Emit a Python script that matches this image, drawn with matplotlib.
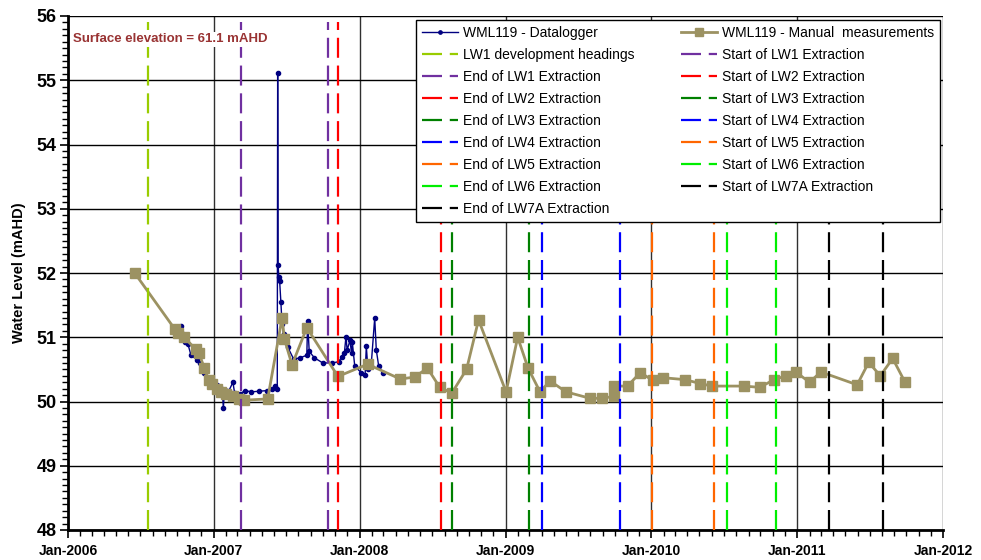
import matplotlib
matplotlib.use("Agg")
import matplotlib.pyplot as plt
import matplotlib.dates as mdates
from matplotlib.ticker import MultipleLocator
import pandas as pd

plt.rcParams['font.family'] = ['Liberation Sans', 'DejaVu Sans']

# ---------------- data ----------------
logger_dates = ['2006-10-11', '2006-10-16', '2006-10-20', '2006-10-28', '2006-11-05',
                '2006-11-20', '2006-11-28', '2006-12-08', '2006-12-26', '2007-01-10',
                '2007-01-22', '2007-01-25', '2007-01-28', '2007-02-08', '2007-02-18',
                '2007-02-22', '2007-03-08', '2007-03-20', '2007-04-05', '2007-04-25',
                '2007-05-15', '2007-05-28', '2007-06-04', '2007-06-09', '2007-06-10',
                '2007-06-11', '2007-06-13', '2007-06-15', '2007-06-18', '2007-06-21',
                '2007-06-25', '2007-07-05', '2007-07-20', '2007-08-05', '2007-08-22',
                '2007-08-24', '2007-08-28', '2007-09-10', '2007-10-01', '2007-10-25',
                '2007-11-10', '2007-11-18', '2007-11-24', '2007-11-28', '2007-12-01',
                '2007-12-08', '2007-12-12', '2007-12-14', '2007-12-20', '2008-01-05',
                '2008-01-15', '2008-01-18', '2008-01-22', '2008-01-30', '2008-02-08',
                '2008-02-12', '2008-02-18', '2008-03-01']
logger_values = [51.18, 51.05, 50.92, 50.90, 50.72,
                 50.65, 50.60, 50.44, 50.29, 50.25,
                 50.20, 49.90, 50.18, 50.17, 50.30,
                 50.14, 50.12, 50.17, 50.15, 50.16,
                 50.17, 50.20, 50.24, 50.20, 55.12,
                 52.13, 51.93, 51.87, 51.55, 51.20,
                 51.05, 50.85, 50.66, 50.68, 50.72,
                 51.25, 50.78, 50.68, 50.60, 50.60,
                 50.62, 50.70, 50.75, 51.01, 50.80,
                 50.95, 50.75, 50.92, 50.55, 50.45,
                 50.42, 50.86, 50.50, 50.55, 51.30,
                 50.80, 50.55, 50.44]

manual_dates = ['2006-06-17', '2006-09-25', '2006-10-04', '2006-10-19', '2006-11-17',
                '2006-11-25', '2006-12-08', '2006-12-20', '2006-12-27', '2007-01-10',
                '2007-01-19', '2007-01-31', '2007-02-17', '2007-03-05', '2007-03-18',
                '2007-05-16', '2007-06-21', '2007-06-27', '2007-07-16', '2007-08-22',
                '2007-11-08', '2008-01-21', '2008-04-12', '2008-05-18', '2008-06-19',
                '2008-07-20', '2008-08-19', '2008-09-25', '2008-10-25', '2009-01-02',
                '2009-01-31', '2009-02-26', '2009-03-28', '2009-04-22', '2009-06-01',
                '2009-07-31', '2009-08-31', '2009-09-28', '2009-09-30', '2009-11-02',
                '2009-12-04', '2010-01-04', '2010-01-31', '2010-03-26', '2010-05-03',
                '2010-06-01', '2010-08-21', '2010-09-29', '2010-11-04', '2010-12-04',
                '2010-12-28', '2011-02-01', '2011-03-01', '2011-05-31', '2011-06-29',
                '2011-07-28', '2011-08-28', '2011-09-28']
manual_values = [52.00, 51.13, 51.07, 51.00, 50.81,
                 50.76, 50.52, 50.33, 50.27, 50.20,
                 50.15, 50.12, 50.09, 50.04, 50.02,
                 50.04, 51.30, 50.97, 50.57, 51.15,
                 50.39, 50.58, 50.35, 50.38, 50.52,
                 50.22, 50.13, 50.50, 51.27, 50.15,
                 51.00, 50.52, 50.15, 50.32, 50.15,
                 50.05, 50.05, 50.08, 50.24, 50.24,
                 50.45, 50.33, 50.37, 50.34, 50.28,
                 50.24, 50.24, 50.22, 50.34, 50.40,
                 50.46, 50.30, 50.46, 50.26, 50.61,
                 50.40, 50.67, 50.30]

event_labels = ['LW1 development headings',
                'End of LW1 Extraction', 'End of LW2 Extraction', 'End of LW3 Extraction',
                'End of LW4 Extraction', 'End of LW5 Extraction', 'End of LW6 Extraction',
                'End of LW7A Extraction',
                'Start of LW1 Extraction', 'Start of LW2 Extraction', 'Start of LW3 Extraction',
                'Start of LW4 Extraction', 'Start of LW5 Extraction', 'Start of LW6 Extraction',
                'Start of LW7A Extraction']
event_dates = ['2006-07-20',
               '2007-10-13', '2008-07-22', '2009-03-01', '2009-10-13', '2010-06-07',
               '2010-11-10', '2011-08-04',
               '2007-03-10', '2007-11-08', '2008-08-20', '2009-04-01', '2010-01-03',
               '2010-07-08', '2011-03-21']
event_colors = ['#99CC00',
                '#7030A0', '#FF0000', '#008000', '#0000FF', '#FF6600', '#00EE00', '#000000',
                '#7030A0', '#FF0000', '#008000', '#0000FF', '#FF6600', '#00EE00', '#000000']

y_min, y_max = 48, 56
x_start, x_end = '2006-01-01', '2012-01-01'

# ---------------- plot ----------------
fig = plt.figure(figsize=(9.81, 5.60), dpi=100)
ax = fig.add_axes([68 / 981, 30 / 560, (943 - 68) / 981, (530 - 16) / 560])

ax.set_xlim(pd.Timestamp(x_start), pd.Timestamp(x_end))
ax.set_ylim(y_min, y_max)

# grid
ax.grid(True, which='major', axis='y', color='black', linewidth=1.0, zorder=0)
ax.grid(True, which='major', axis='x', color='#303030', linewidth=1.0, zorder=0)
ax.set_axisbelow(True)

lg, = ax.plot(pd.to_datetime(logger_dates), logger_values, color='#000080',
              linewidth=1.0, marker='o', markersize=3, zorder=3,
              label='WML119 - Datalogger')
mn, = ax.plot(pd.to_datetime(manual_dates), manual_values, color='#9C9262',
              linewidth=2.0, marker='s', markersize=7, markeredgecolor='#9C9262',
              zorder=4, label='WML119 - Manual  measurements')

ev_handles = []
for lab, d, c in zip(event_labels, event_dates, event_colors):
    t = pd.Timestamp(d)
    h, = ax.plot([t, t], [y_min, 55.9], color=c, linewidth=1.6,
                 dashes=(9, 3.5), zorder=5, label=lab)
    ev_handles.append(h)

# axes styling
ax.spines['top'].set_visible(False)
ax.spines['right'].set_visible(False)
ax.spines['left'].set_linewidth(2)
ax.spines['bottom'].set_linewidth(2)

ax.xaxis.set_major_locator(mdates.YearLocator())
ax.xaxis.set_major_formatter(mdates.DateFormatter('%b-%Y'))
ax.xaxis.set_minor_locator(mdates.MonthLocator())
ax.yaxis.set_major_locator(MultipleLocator(1))
ax.yaxis.set_minor_locator(MultipleLocator(0.1))
ax.tick_params(axis='both', which='major', direction='out', length=6, width=1.2)
ax.tick_params(axis='both', which='minor', direction='out', length=4, width=1.0)
ax.tick_params(axis='y', labelsize=13, pad=2)
ax.tick_params(axis='x', labelsize=10, pad=4)
for lbl in ax.get_xticklabels() + ax.get_yticklabels():
    lbl.set_fontweight('bold')

ax.set_ylabel('Water Level (mAHD)', fontsize=10.5, fontweight='bold', labelpad=8)

ax.text(0.006, 0.955, 'Surface elevation = 61.1 mAHD', transform=ax.transAxes,
        color='#993333', fontsize=9.5, fontweight='bold', va='center', ha='left',
        zorder=8, bbox=dict(facecolor='white', edgecolor='none', pad=1.0))

# legend
end_h = ev_handles[0:8]
start_h = ev_handles[8:]
handles = [lg] + end_h + [mn] + start_h
labels = [h.get_label() for h in handles]
leg = ax.legend(handles, labels, ncol=2, loc='upper right', numpoints=1,
                bbox_to_anchor=(940 / 981, 1 - 20 / 560), bbox_transform=fig.transFigure,
                borderaxespad=0,
                fontsize=10, frameon=True, fancybox=False, framealpha=1,
                edgecolor='black', handlelength=2.6, handletextpad=0.4,
                labelspacing=0.58, columnspacing=3.3, borderpad=0.4,
                markerscale=0.8)
leg.get_frame().set_linewidth(1.0)
leg.set_zorder(10)

fig.savefig('out.png', dpi=100)
